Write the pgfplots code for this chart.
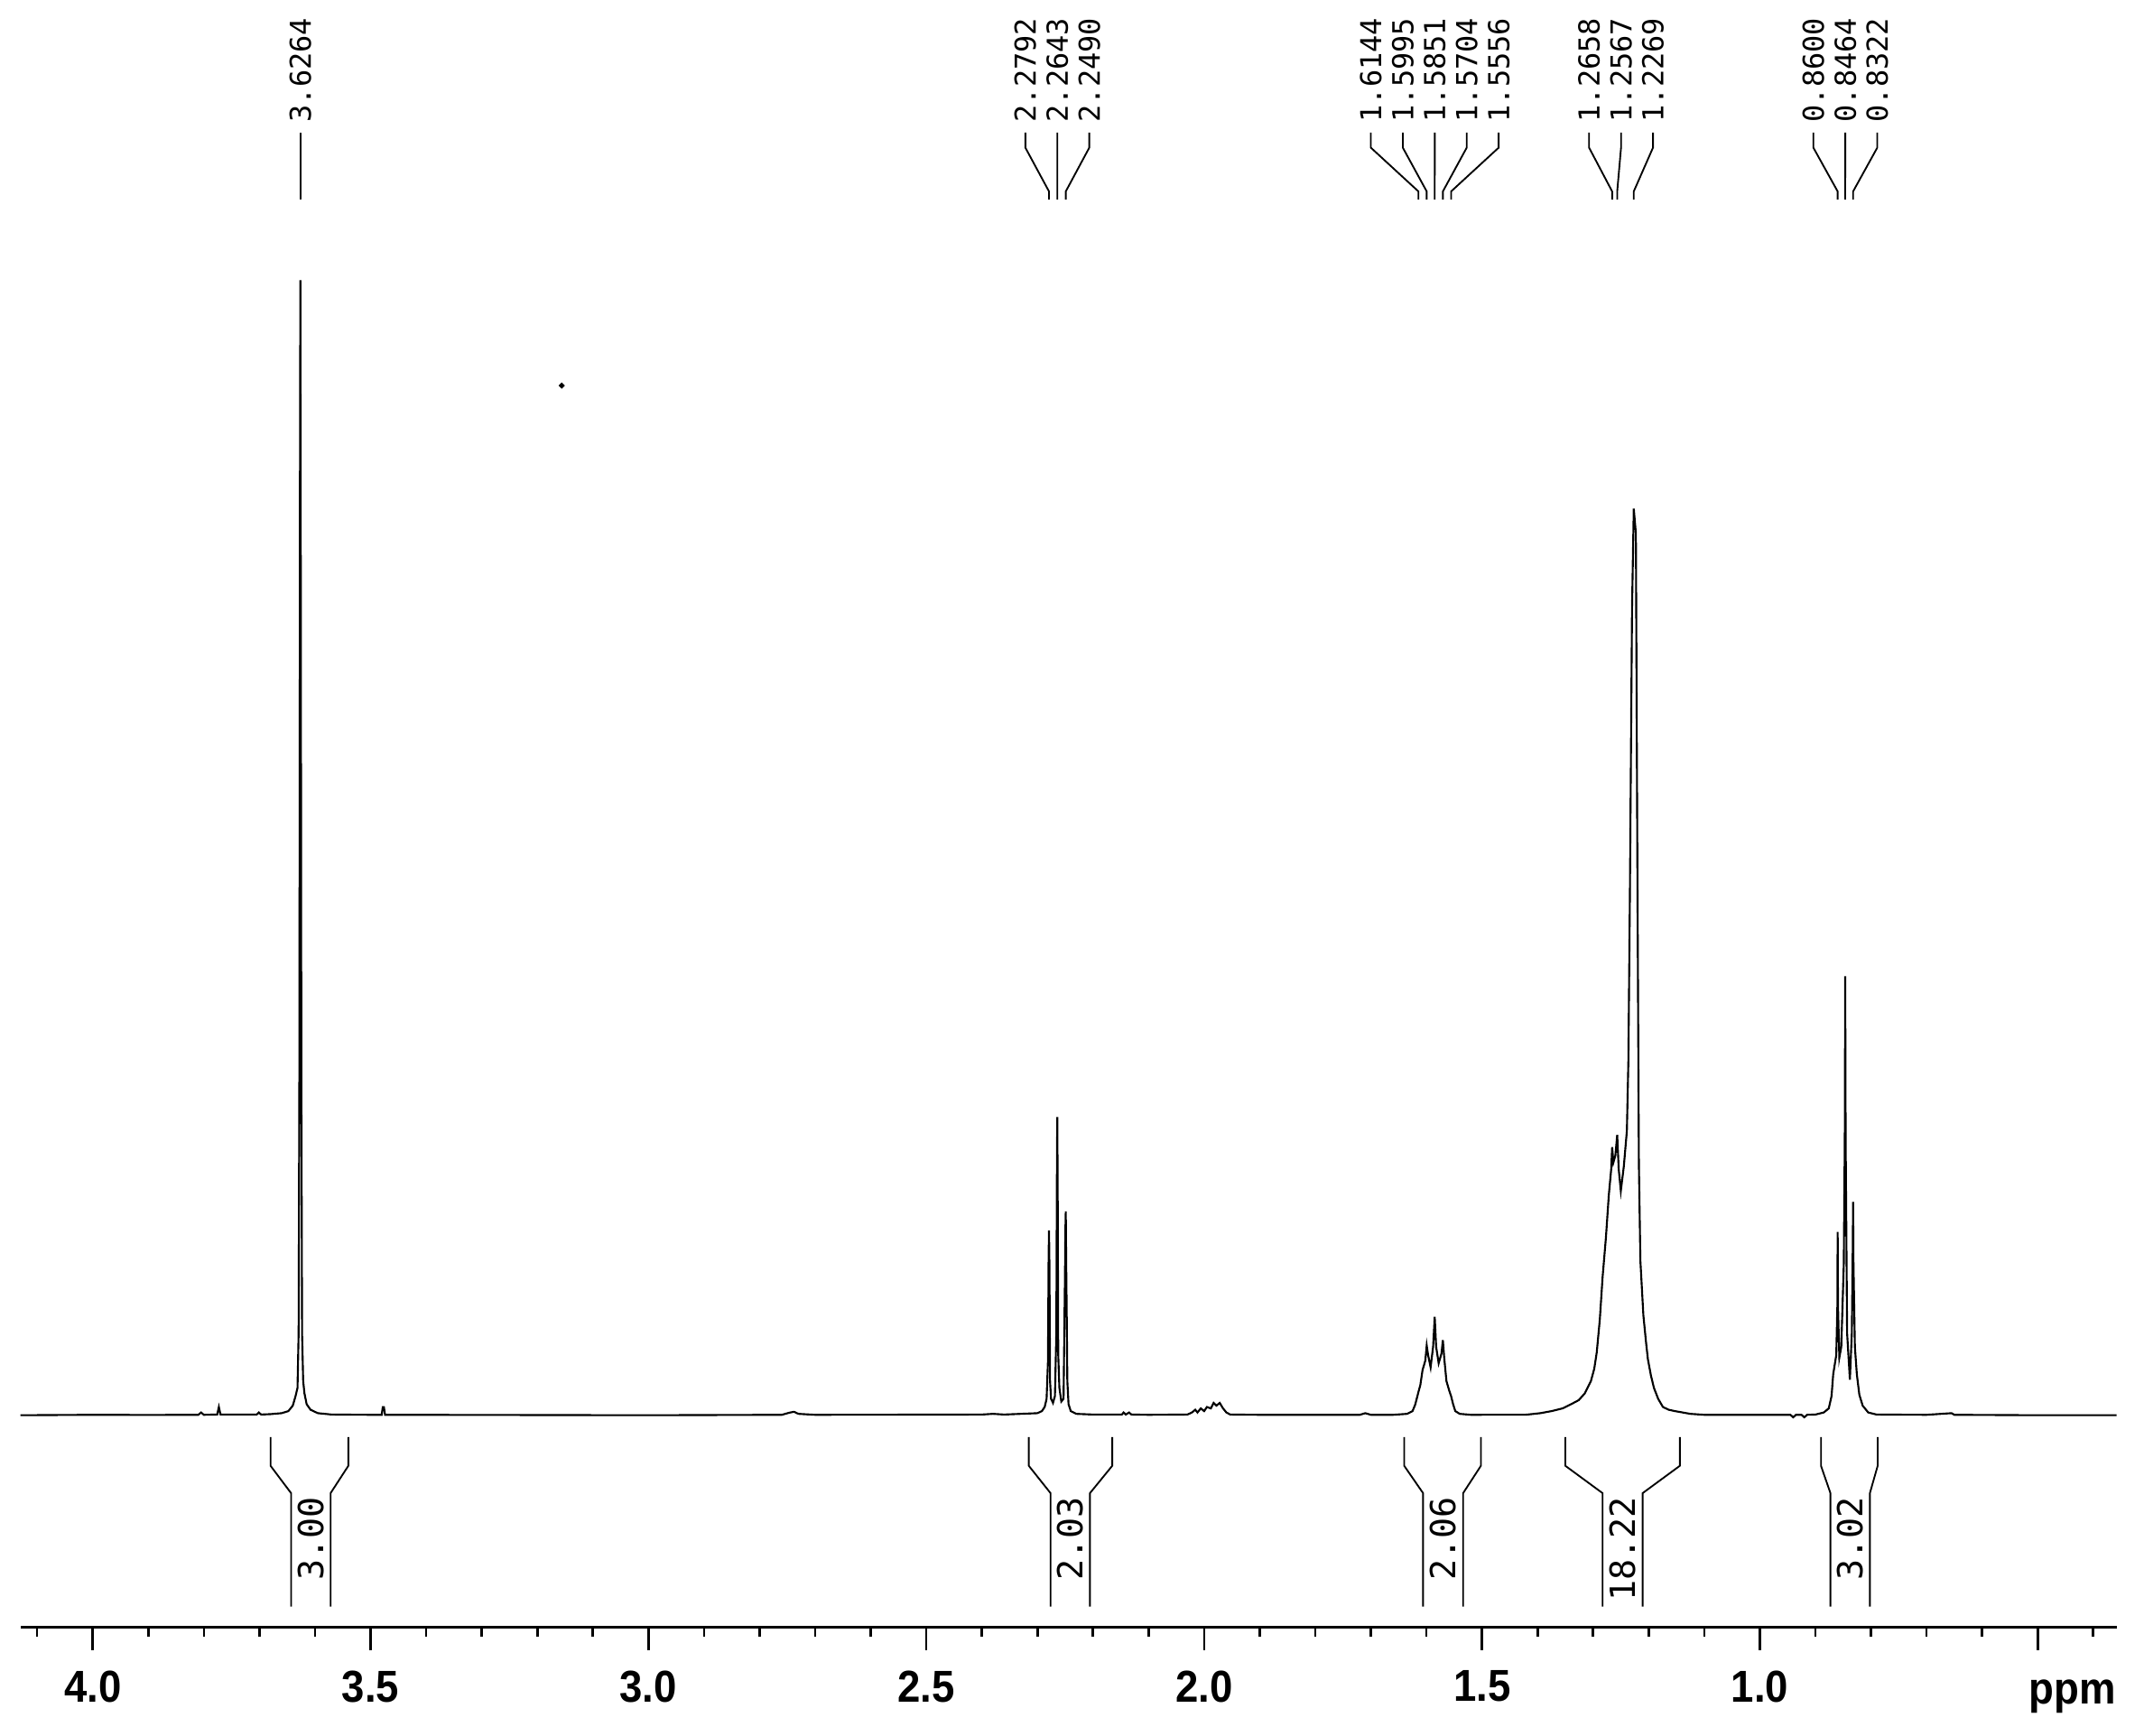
\documentclass[border=0pt]{standalone}
\usepackage{fontspec}
\usepackage{pgfplots}
\pgfplotsset{compat=1.18}
\usepackage{pgfplotstable}
\newfontfamily\tickfont[FakeStretch=0.92]{Liberation Sans}
\newfontfamily\monofont{DejaVu Sans Mono}

% 1H NMR trace, intensity (baseline = 0)
\pgfplotstableread{
ppm I
4.130 0
4.000 0.3
3.900 0.2
3.810 0.3
3.805 2
3.800 0.3
3.776 0.5
3.773 6
3.770 0.5
3.705 0.5
3.701 2
3.697 0.5
3.680 0.8
3.660 1.5
3.648 3
3.640 7
3.635 14
3.6315 20
3.6295 60
3.6282 250
3.6270 700
3.6264 830
3.6258 700
3.6246 250
3.6233 60
3.6213 25
3.6190 16
3.6150 8
3.6080 4
3.5950 1.5
3.5700 0.5
3.5000 0.3
3.480 0.3
3.478 6
3.476 6
3.474 0.3
3.300 0.2
3.000 0
2.760 0.3
2.745 2
2.738 2.5
2.730 1
2.700 0.3
2.400 0.5
2.380 1
2.360 0.5
2.330 1
2.300 1.5
2.292 3
2.287 6
2.2835 12
2.2810 40
2.2800 110
2.2792 135
2.2784 110
2.2773 25
2.2755 12
2.2720 9
2.2685 14
2.2660 60
2.2650 170
2.2643 218
2.2636 170
2.2626 45
2.2605 20
2.2570 10
2.2530 12
2.2505 100
2.2497 135
2.2490 149
2.2482 110
2.2472 70
2.2462 25
2.2440 8
2.2400 3
2.2300 1
2.2000 0.5
2.148 0.5
2.145 2
2.141 0.5
2.135 2
2.131 0.5
2.100 0.3
2.030 0.5
2.022 2
2.016 4
2.012 2
2.006 5
2.000 3
1.995 6
1.988 5
1.983 9
1.978 7
1.972 9
1.966 5
1.960 2
1.953 0.5
1.900 0.3
1.800 0.3
1.720 0.3
1.710 1.5
1.700 0.3
1.660 0.3
1.635 1
1.625 3
1.620 8
1.6144 17
1.611 22
1.607 33
1.602 40
1.5995 51
1.5970 44
1.5925 35
1.5880 50
1.5851 72
1.5825 50
1.5780 38
1.5730 45
1.5704 55
1.5680 42
1.5640 25
1.5590 18
1.5556 14
1.5520 8
1.548 3
1.540 1
1.520 0.3
1.420 0.4
1.395 1.5
1.375 3
1.355 5
1.340 8
1.326 11
1.315 16
1.304 25
1.2980 34
1.2935 46
1.2880 70
1.283 101
1.2770 130
1.2718 161
1.2675 180
1.2658 196
1.2635 185
1.2600 190
1.2567 205
1.2540 180
1.2502 164
1.2448 182
1.2393 208
1.2366 259
1.2339 379
1.2300 590
1.2269 663
1.2231 645
1.2204 402
1.2177 184
1.2150 113
1.2096 73
1.2050 54
1.2015 41
1.1960 29
1.1906 20
1.1830 12
1.1744 6
1.1640 4
1.1527 3
1.125 1
1.100 0.3
0.945 0.3
0.940 -1.5
0.935 0.3
0.925 0.3
0.920 -1.5
0.915 0.3
0.900 0.5
0.885 2
0.876 5
0.871 14
0.868 30
0.8625 44
0.8605 80
0.8600 134
0.8594 80
0.8570 42
0.8535 50
0.8490 110
0.8472 200
0.8464 321
0.8456 200
0.8430 60
0.8380 26
0.8345 60
0.8329 120
0.8322 156
0.8315 110
0.8290 50
0.8255 30
0.8210 15
0.8150 7
0.8050 2
0.7900 0.5
0.700 0.3
0.655 1.5
0.650 0.3
0.500 0
0.358 0
}\spectrum

\begin{document}
\begin{tikzpicture}[
    ann/.style={black, line width=0.35pt},
    lab/.style={rotate=90, anchor=west, inner sep=0pt,
                font=\monofont\fontsize{6}{6}\selectfont},
    intlab/.style={rotate=90, anchor=east, inner sep=0pt,
                   font=\monofont\fontsize{7.2}{7.2}\selectfont},
]
\begin{axis}[
    name=ax,
    scale only axis,
    width=153.3mm, height=119mm,
    x dir=reverse,
    xmin=0.358, xmax=4.130,
    ymin=-155, ymax=1035,
    axis x line*=bottom,
    axis y line=none,
    ytick=\empty,
    xtick pos=left,
    xtick={0.5,1.0,1.5,2.0,2.5,3.0,3.5,4.0},
    xticklabels={,1.0,1.5,2.0,2.5,3.0,3.5,4.0},
    minor xtick={0.4,0.6,0.7,0.8,0.9,1.1,1.2,1.3,1.4,1.6,1.7,1.8,1.9,
                 2.1,2.2,2.3,2.4,2.6,2.7,2.8,2.9,3.1,3.2,3.3,3.4,3.6,3.7,3.8,3.9,4.1},
    tick align=outside,
    major tick length=1.7mm,
    minor tick length=0.7mm,
    tick style={black, line width=0.5pt},
    axis line style={black, line width=0.6pt},
    xticklabel style={font=\tickfont\bfseries\fontsize{9.3}{10}\selectfont,
                      anchor=north, inner sep=0pt, yshift=-1.4mm},
    clip=false,
]
\addplot[black, line width=0.4pt] table[x=ppm, y=I] {\spectrum};
\addplot[only marks, mark=*, mark size=0.13mm, black] coordinates {(3.156,753)};

% peak labels
\addplot[ann] coordinates {(3.6264,938) (3.6264,889)};
\node[lab] at (axis cs:3.6264,945) {3.6264};

\addplot[ann] coordinates {(2.3217,938) (2.3217,927) (2.2792,895) (2.2792,889)};
\addplot[ann] coordinates {(2.2642,938) (2.2642,927) (2.2643,895) (2.2643,889)};
\addplot[ann] coordinates {(2.2067,938) (2.2067,927) (2.2490,895) (2.2490,889)};
\node[lab] at (axis cs:2.3217,945) {2.2792};
\node[lab] at (axis cs:2.2642,945) {2.2643};
\node[lab] at (axis cs:2.2067,945) {2.2490};

\addplot[ann] coordinates {(1.7000,938) (1.7000,927) (1.6144,895) (1.6144,889)};
\addplot[ann] coordinates {(1.6425,938) (1.6425,927) (1.5995,895) (1.5995,889)};
\addplot[ann] coordinates {(1.5850,938) (1.5850,927) (1.5851,895) (1.5851,889)};
\addplot[ann] coordinates {(1.5275,938) (1.5275,927) (1.5704,895) (1.5704,889)};
\addplot[ann] coordinates {(1.4700,938) (1.4700,927) (1.5556,895) (1.5556,889)};
\node[lab] at (axis cs:1.7000,945) {1.6144};
\node[lab] at (axis cs:1.6425,945) {1.5995};
\node[lab] at (axis cs:1.5850,945) {1.5851};
\node[lab] at (axis cs:1.5275,945) {1.5704};
\node[lab] at (axis cs:1.4700,945) {1.5556};

\addplot[ann] coordinates {(1.3073,938) (1.3073,927) (1.2658,895) (1.2658,889)};
\addplot[ann] coordinates {(1.2498,938) (1.2498,927) (1.2567,895) (1.2567,889)};
\addplot[ann] coordinates {(1.1923,938) (1.1923,927) (1.2269,895) (1.2269,889)};
\node[lab] at (axis cs:1.3073,945) {1.2658};
\node[lab] at (axis cs:1.2498,945) {1.2567};
\node[lab] at (axis cs:1.1923,945) {1.2269};

\addplot[ann] coordinates {(0.9037,938) (0.9037,927) (0.8600,895) (0.8600,889)};
\addplot[ann] coordinates {(0.8462,938) (0.8462,927) (0.8464,895) (0.8464,889)};
\addplot[ann] coordinates {(0.7887,938) (0.7887,927) (0.8322,895) (0.8322,889)};
\node[lab] at (axis cs:0.9037,945) {0.8600};
\node[lab] at (axis cs:0.8462,945) {0.8464};
\node[lab] at (axis cs:0.7887,945) {0.8322};

% integrals
\addplot[ann] coordinates {(3.680,-16) (3.680,-37) (3.643,-57) (3.643,-140)};
\addplot[ann] coordinates {(3.540,-16) (3.540,-37) (3.572,-57) (3.572,-140)};
\node[intlab] at (axis cs:3.6075,-59) {3.00};

\addplot[ann] coordinates {(2.3155,-16) (2.3155,-37) (2.2764,-57) (2.2764,-140)};
\addplot[ann] coordinates {(2.1654,-16) (2.1654,-37) (2.2055,-57) (2.2055,-140)};
\node[intlab] at (axis cs:2.2410,-59) {2.03};

\addplot[ann] coordinates {(1.640,-16) (1.640,-37) (1.606,-57) (1.606,-140)};
\addplot[ann] coordinates {(1.502,-16) (1.502,-37) (1.534,-57) (1.534,-140)};
\node[intlab] at (axis cs:1.570,-59) {2.06};

\addplot[ann] coordinates {(1.350,-16) (1.350,-37) (1.283,-57) (1.283,-140)};
\addplot[ann] coordinates {(1.144,-16) (1.144,-37) (1.211,-57) (1.211,-140)};
\node[intlab] at (axis cs:1.247,-59) {18.22};

\addplot[ann] coordinates {(0.890,-16) (0.890,-37) (0.873,-57) (0.873,-140)};
\addplot[ann] coordinates {(0.788,-16) (0.788,-37) (0.802,-57) (0.802,-140)};
\node[intlab] at (axis cs:0.8375,-59) {3.02};

\node[anchor=base east, inner sep=0pt,
      font=\tickfont\bfseries\fontsize{9.3}{10}\selectfont]
      at ([yshift=-5.6mm]rel axis cs:1,0) {ppm};
\end{axis}
\path (ax.south west) ++(-1.5mm,-7.9mm);
\path (ax.north east) ++(2.0mm,0mm);
\end{tikzpicture}
\end{document}
